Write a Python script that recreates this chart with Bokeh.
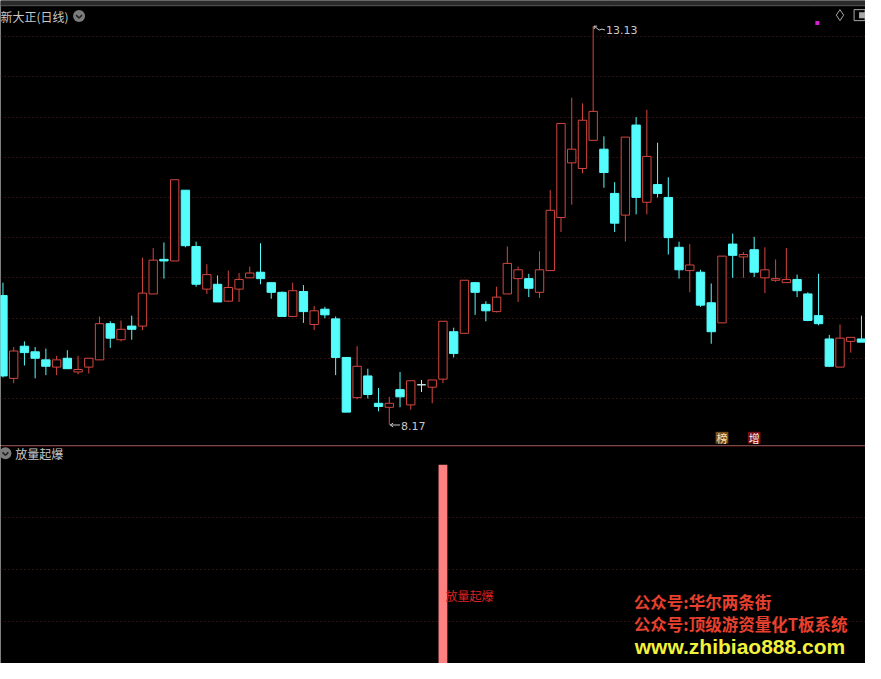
import numpy as np
from bokeh.plotting import figure
from bokeh.layouts import column
from bokeh.models import Range1d, FixedTicker, ColumnDataSource, Grid, BoxAnnotation
from bokeh.core.properties import value
from bokeh.embed import file_html
from bokeh.resources import INLINE

# ---------------- data ----------------
opens = [9.78, 8.75, 9.15, 9.08, 8.98, 8.89, 9.00, 8.83, 8.89, 8.98,
         9.43, 9.23, 9.40, 9.40, 9.80, 10.23, 10.21, 11.09, 10.39, 9.86,
         9.92, 9.71, 9.86, 10.00, 10.07, 9.94, 9.82, 9.52, 9.83, 9.42,
         9.61, 9.49, 9.01, 8.51, 8.78, 8.44, 8.39, 8.61, 8.42, 8.67,
         8.64, 8.74, 9.33, 9.31, 9.94, 9.67, 9.58, 9.80, 9.99, 9.99,
         9.82, 10.09, 10.75, 11.43, 11.36, 11.71, 11.60, 11.05, 10.78, 11.90,
         10.94, 11.16, 11.00, 10.38, 10.09, 10.07, 9.69, 9.44, 10.42, 10.26,
         10.35, 10.00, 9.97, 9.94, 9.98, 9.80, 9.53, 9.24, 8.89, 9.21, 9.24]
highs = [9.94, 9.14, 9.21, 9.14, 9.12, 9.03, 9.10, 9.03, 9.00, 9.52,
         9.46, 9.47, 9.53, 10.25, 10.37, 10.44, 11.22, 11.09, 10.45, 10.17,
         10.03, 10.09, 10.06, 10.14, 10.43, 9.94, 9.83, 9.94, 9.91, 9.65,
         9.64, 9.52, 9.01, 9.15, 8.87, 8.63, 8.52, 8.83, 8.72, 8.73,
         8.73, 9.46, 9.38, 9.97, 9.95, 9.71, 9.89, 10.39, 10.14, 10.05,
         10.33, 11.09, 11.92, 12.24, 12.17, 13.13, 11.76, 11.19, 11.75, 12.00,
         12.09, 11.68, 11.25, 10.45, 10.42, 10.10, 9.93, 10.27, 10.55, 10.32,
         10.51, 10.38, 10.23, 10.37, 10.04, 9.82, 10.05, 9.29, 9.42, 9.26, 9.53]
lows = [8.76, 8.69, 8.91, 8.75, 8.79, 8.79, 8.87, 8.80, 8.81, 8.98,
        9.13, 9.21, 9.23, 9.35, 9.80, 9.99, 10.21, 10.38, 9.89, 9.80,
        9.70, 9.70, 9.70, 10.00, 9.92, 9.74, 9.52, 9.52, 9.44, 9.35,
        9.50, 8.79, 8.33, 8.49, 8.50, 8.34, 8.17, 8.39, 8.36, 8.58,
        8.44, 8.69, 9.01, 9.31, 9.54, 9.46, 9.57, 9.80, 9.70, 9.76,
        9.75, 10.09, 10.57, 10.91, 11.30, 11.71, 11.12, 10.57, 10.45, 10.79,
        10.79, 11.00, 10.29, 9.99, 9.82, 9.64, 9.18, 9.44, 10.00, 10.00,
        10.01, 9.81, 9.95, 9.94, 9.76, 9.46, 9.41, 8.89, 8.89, 9.07, 9.20]
closes = [8.78, 9.09, 9.07, 9.00, 8.90, 8.98, 8.87, 8.86, 9.00, 9.43,
          9.25, 9.36, 9.36, 9.81, 10.22, 10.21, 11.22, 10.40, 9.92, 10.04,
          9.70, 9.88, 9.98, 10.06, 9.99, 9.82, 9.52, 9.84, 9.58, 9.59,
          9.54, 9.01, 8.33, 8.90, 8.55, 8.40, 8.44, 8.52, 8.72, 8.67,
          8.73, 9.46, 9.06, 9.97, 9.82, 9.59, 9.76, 10.18, 10.10, 9.87,
          10.10, 10.84, 11.92, 11.60, 11.96, 12.07, 11.31, 10.68, 11.75, 11.00,
          11.51, 11.05, 10.50, 10.10, 10.16, 9.66, 9.33, 10.27, 10.28, 10.29,
          10.07, 10.10, 9.99, 9.98, 9.84, 9.47, 9.43, 8.90, 9.25, 9.26, 9.20]
# indicator "放量起爆" (1 = signal on that day)
signal = [0, 0, 0, 0, 0, 0, 0, 0, 0, 0,
          0, 0, 0, 0, 0, 0, 0, 0, 0, 0,
          0, 0, 0, 0, 0, 0, 0, 0, 0, 0,
          0, 0, 0, 0, 0, 0, 0, 0, 0, 0,
          0, 1, 0, 0, 0, 0, 0, 0, 0, 0,
          0, 0, 0, 0, 0, 0, 0, 0, 0, 0,
          0, 0, 0, 0, 0, 0, 0, 0, 0, 0,
          0, 0, 0, 0, 0, 0, 0, 0, 0, 0, 0]
price_grid = [8.5, 9.0, 9.5, 10.0, 10.5, 11.0, 11.5, 12.0, 12.5, 13.0]
signal_grid = [0.25, 0.5, 0.75]
badge_idx = [67, 70]
badge_txt = ["榜", "增"]
title_main = "新大正(日线)"
title_ind = "放量起爆"
signal_label = "放量起爆"
wm_lines = ["公众号:华尔两条街", "公众号:顶级游资量化T板系统", "www.zhibiao888.com"]

# ---------------- layout helpers (reference pixel -> data) ----------------
W, H_TOP, H_BOT = 865, 445, 218
PX, X0 = 10.93, 2.5
def rx(xr): return (xr - X0) / PX
def ry(yr): return 13.449 - 0.012136 * yr
def by(yr): return (690.0 - yr) / 213.3

RED = "#d4463f"
CYAN = "#54fcfc"
DOJI = "#cdeeee"
GRID = "#5e2020"
CJK = value("Noto Sans CJK SC")

common = dict(output_backend="svg", toolbar_location=None, x_axis_location=None,
              y_axis_location=None, background_fill_color="black",
              border_fill_color="black", min_border=0, outline_line_color=None)

top = figure(width=W, height=H_TOP, x_range=Range1d(rx(0), rx(881)),
             y_range=Range1d(ry(456), ry(0)), **common)
top.center = []
top.add_layout(Grid(dimension=1, ticker=FixedTicker(ticks=price_grid),
                    grid_line_color=GRID, grid_line_dash="1 3", grid_line_width=1))

o = np.array(opens); c = np.array(closes); h = np.array(highs); l = np.array(lows)
idx = np.arange(len(o))
col = np.where(c > o, RED, np.where(c < o, CYAN, DOJI))
fill = np.where(c > o, "black", np.where(c < o, CYAN, DOJI))
src = ColumnDataSource(dict(x=idx, h=h, l=l, top=np.maximum(o, c), bottom=np.minimum(o, c),
                            color=col, fill=fill))
top.segment(x0="x", y0="h", x1="x", y1="l", line_color="color", line_width=1, source=src)
top.vbar(x="x", top="top", bottom="bottom", width=0.78, fill_color="fill",
         line_color="color", line_width=1, source=src)

# top window bar
top.add_layout(BoxAnnotation(top=ry(0), bottom=ry(4.5), fill_color="#2a2a2a", fill_alpha=1, line_color=None))
top.add_layout(BoxAnnotation(top=ry(4.5), bottom=ry(6), fill_color="#4a4a4a", fill_alpha=1, line_color=None))
for xd in [620, 654, 689, 725, 760, 795, 830, 865]:
    top.segment(x0=[rx(xd)], y0=[ry(0)], x1=[rx(xd)], y1=[ry(4.5)], line_color="#555555", line_width=1)

# title
top.text(x=[rx(0)], y=[ry(16)], text=[title_main], text_font=CJK, text_font_size="12px",
         text_color="#c8c8c8", text_baseline="middle", text_align="left")
top.scatter(x=[rx(80)], y=[ry(16)], size=12, marker="circle", fill_color="#7c7c7c", line_color=None)
top.line(x=[rx(77), rx(80), rx(83)], y=[ry(15), ry(18), ry(15)], line_color="#202020", line_width=1.5)

# right-top icons
top.scatter(x=[rx(855)], y=[ry(15)], size=11, marker="diamond", fill_color=None, line_color="#a8a8a8")
top.scatter(x=[rx(875)], y=[ry(15)], size=11, marker="square", fill_color=None, line_color="#a8a8a8")
top.scatter(x=[rx(877.5)], y=[ry(15)], size=6, marker="square", fill_color="#a8a8a8", line_color=None)
top.scatter(x=[rx(832)], y=[ry(23)], size=4, marker="square", fill_color="#d020d0", line_color=None)

# max / min labels
imax = int(np.argmax(h)); imin = int(np.argmin(l))
xh = X0 + PX * imax
dy = 0.012136
top.segment(x0=[rx(xh + 1)], y0=[h[imax]], x1=[rx(xh + 4)], y1=[h[imax]], line_color="#c8c8c8")
top.segment(x0=[rx(xh + 1)], y0=[h[imax]], x1=[rx(xh + 1)], y1=[h[imax] - 3 * dy], line_color="#c8c8c8")
top.line(x=[rx(xh + 1), rx(xh + 6), rx(xh + 9), rx(xh + 12)],
         y=[h[imax], h[imax] - 4 * dy, h[imax] - 3 * dy, h[imax] - 4 * dy], line_color="#c8c8c8")
top.text(x=[rx(xh + 13)], y=[h[imax] - 4 * dy], text=[f"{h[imax]:.2f}"], text_font=value("DejaVu Sans"),
         text_font_size="11px", text_color="#c8c8c8", text_baseline="middle", text_align="left")
xl = X0 + PX * imin
top.segment(x0=[rx(xl + 1)], y0=[l[imin]], x1=[rx(xl + 11)], y1=[l[imin]], line_color="#c8c8c8")
top.segment(x0=[rx(xl + 1)], y0=[l[imin]], x1=[rx(xl + 4)], y1=[l[imin] + 2 * dy], line_color="#c8c8c8")
top.segment(x0=[rx(xl + 1)], y0=[l[imin]], x1=[rx(xl + 4)], y1=[l[imin] - 2 * dy], line_color="#c8c8c8")
top.text(x=[rx(xl + 12)], y=[l[imin] - 1.5 * dy], text=[f"{l[imin]:.2f}"], text_font=value("DejaVu Sans"),
         text_font_size="11px", text_color="#c8c8c8", text_baseline="middle", text_align="left")

# badges
top.rect(x=badge_idx, y=[ry(448)] * 2, width=13 / PX, height=12 * dy,
         fill_color=["#7a4c1c", "#7c0c0c"], line_color=None)
top.text(x=badge_idx, y=[ry(448.5)] * 2, text=badge_txt, text_font=CJK, text_font_size="11px",
         text_color=["#f4e4b8", "#f4f4f4"], text_baseline="middle", text_align="center")

# ---------------- indicator panel ----------------
bot = figure(width=W, height=H_BOT, x_range=top.x_range,
             y_range=Range1d(by(679), by(457)), **common)
bot.center = []
bot.add_layout(Grid(dimension=1, ticker=FixedTicker(ticks=signal_grid),
                    grid_line_color=GRID, grid_line_dash="1 3", grid_line_width=1))
bot.add_layout(BoxAnnotation(top=by(455.5), bottom=by(458), fill_color="#6a1616", fill_alpha=1, line_color=None))
bot.vbar(x=idx, top=signal, bottom=0, width=0.82, fill_color="#ff8080", line_color=None)
sig_i = [i for i, v in enumerate(signal) if v]
bot.text(x=[i + 2.5 / PX for i in sig_i], y=[by(610)] * len(sig_i), text=[signal_label] * len(sig_i),
         text_font=CJK, text_font_size="12px", text_color="#dd2222",
         text_baseline="middle", text_align="left")
bot.scatter(x=[rx(5)], y=[by(465)], size=12, marker="circle", fill_color="#7c7c7c", line_color=None)
bot.line(x=[rx(2), rx(5), rx(8)], y=[by(464), by(467), by(464)], line_color="#202020", line_width=1.5)
bot.text(x=[rx(15)], y=[by(465)], text=[title_ind], text_font=CJK, text_font_size="12px",
         text_color="#c8c8c8", text_baseline="middle", text_align="left")

bot.text(x=[rx(645)] * 2, y=[by(616), by(639)], text=wm_lines[:2], text_font=CJK,
         text_font_size="16.5px", text_font_style="bold", text_color="#e8402e",
         text_baseline="middle", text_align="left")
bot.text(x=[rx(646)], y=[by(662)], text=wm_lines[2:], text_font=value("Liberation Sans"),
         text_font_size="21px", text_font_style="bold", text_color="#f2f23c",
         text_baseline="middle", text_align="left")

layout = column(top, bot, spacing=0)
open("out.html", "w").write(file_html(layout, INLINE))
